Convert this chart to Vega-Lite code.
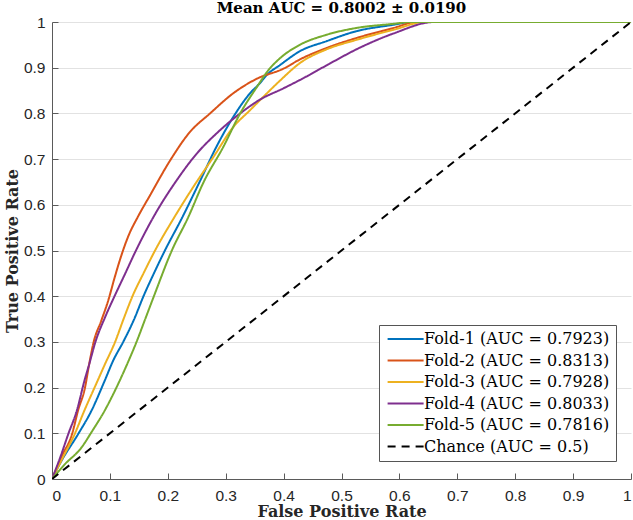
{
  "$schema": "https://vega.github.io/schema/vega-lite/v6.json",
  "width": 579,
  "height": 457,
  "autosize": {"type": "none"},
  "padding": {"left": 52, "top": 22, "right": 2, "bottom": 41},
  "background": "white",
  "title": {
    "text": "Mean AUC = 0.8002 ± 0.0190",
    "font": "DejaVu Serif",
    "fontSize": 15,
    "fontWeight": "bold",
    "color": "#000000",
    "anchor": "middle",
    "offset": -1
  },
  "config": {
    "view": {"stroke": null},
    "axis": {
      "domainColor": "#5a5a5a",
      "domainWidth": 1,
      "tickColor": "#5a5a5a",
      "tickSize": -6,
      "labelFont": "Liberation Sans",
      "labelFontSize": 15.5,
      "labelColor": "#262626",
      "titleFont": "DejaVu Serif",
      "titleFontSize": 16,
      "titleFontWeight": "bold",
      "titleColor": "#262626",
      "gridColor": "#e2e2e2",
      "gridWidth": 1
    }
  },
  "data": {
    "values": [
      {"c": "Fold-1 (AUC = 0.7923)", "x": 0, "y": 0},
      {"c": "Fold-1 (AUC = 0.7923)", "x": 0.016, "y": 0.039},
      {"c": "Fold-1 (AUC = 0.7923)", "x": 0.045, "y": 0.098},
      {"c": "Fold-1 (AUC = 0.7923)", "x": 0.068, "y": 0.149},
      {"c": "Fold-1 (AUC = 0.7923)", "x": 0.091, "y": 0.215},
      {"c": "Fold-1 (AUC = 0.7923)", "x": 0.106, "y": 0.26},
      {"c": "Fold-1 (AUC = 0.7923)", "x": 0.123, "y": 0.3},
      {"c": "Fold-1 (AUC = 0.7923)", "x": 0.142, "y": 0.35},
      {"c": "Fold-1 (AUC = 0.7923)", "x": 0.158, "y": 0.4},
      {"c": "Fold-1 (AUC = 0.7923)", "x": 0.176, "y": 0.45},
      {"c": "Fold-1 (AUC = 0.7923)", "x": 0.195, "y": 0.5},
      {"c": "Fold-1 (AUC = 0.7923)", "x": 0.224, "y": 0.57},
      {"c": "Fold-1 (AUC = 0.7923)", "x": 0.256, "y": 0.653},
      {"c": "Fold-1 (AUC = 0.7923)", "x": 0.284, "y": 0.727},
      {"c": "Fold-1 (AUC = 0.7923)", "x": 0.313, "y": 0.792},
      {"c": "Fold-1 (AUC = 0.7923)", "x": 0.342, "y": 0.844},
      {"c": "Fold-1 (AUC = 0.7923)", "x": 0.359, "y": 0.866},
      {"c": "Fold-1 (AUC = 0.7923)", "x": 0.371, "y": 0.884},
      {"c": "Fold-1 (AUC = 0.7923)", "x": 0.394, "y": 0.906},
      {"c": "Fold-1 (AUC = 0.7923)", "x": 0.428, "y": 0.936},
      {"c": "Fold-1 (AUC = 0.7923)", "x": 0.474, "y": 0.958},
      {"c": "Fold-1 (AUC = 0.7923)", "x": 0.526, "y": 0.98},
      {"c": "Fold-1 (AUC = 0.7923)", "x": 0.59, "y": 0.994},
      {"c": "Fold-1 (AUC = 0.7923)", "x": 0.62, "y": 1},
      {"c": "Fold-1 (AUC = 0.7923)", "x": 1, "y": 1},

      {"c": "Fold-2 (AUC = 0.8313)", "x": 0, "y": 0},
      {"c": "Fold-2 (AUC = 0.8313)", "x": 0.017, "y": 0.05},
      {"c": "Fold-2 (AUC = 0.8313)", "x": 0.035, "y": 0.1},
      {"c": "Fold-2 (AUC = 0.8313)", "x": 0.045, "y": 0.15},
      {"c": "Fold-2 (AUC = 0.8313)", "x": 0.057, "y": 0.2},
      {"c": "Fold-2 (AUC = 0.8313)", "x": 0.064, "y": 0.25},
      {"c": "Fold-2 (AUC = 0.8313)", "x": 0.072, "y": 0.3},
      {"c": "Fold-2 (AUC = 0.8313)", "x": 0.085, "y": 0.346},
      {"c": "Fold-2 (AUC = 0.8313)", "x": 0.097, "y": 0.39},
      {"c": "Fold-2 (AUC = 0.8313)", "x": 0.108, "y": 0.44},
      {"c": "Fold-2 (AUC = 0.8313)", "x": 0.12, "y": 0.49},
      {"c": "Fold-2 (AUC = 0.8313)", "x": 0.132, "y": 0.532},
      {"c": "Fold-2 (AUC = 0.8313)", "x": 0.148, "y": 0.573},
      {"c": "Fold-2 (AUC = 0.8313)", "x": 0.169, "y": 0.62},
      {"c": "Fold-2 (AUC = 0.8313)", "x": 0.204, "y": 0.697},
      {"c": "Fold-2 (AUC = 0.8313)", "x": 0.238, "y": 0.759},
      {"c": "Fold-2 (AUC = 0.8313)", "x": 0.273, "y": 0.8},
      {"c": "Fold-2 (AUC = 0.8313)", "x": 0.313, "y": 0.844},
      {"c": "Fold-2 (AUC = 0.8313)", "x": 0.354, "y": 0.876},
      {"c": "Fold-2 (AUC = 0.8313)", "x": 0.4, "y": 0.898},
      {"c": "Fold-2 (AUC = 0.8313)", "x": 0.428, "y": 0.918},
      {"c": "Fold-2 (AUC = 0.8313)", "x": 0.474, "y": 0.943},
      {"c": "Fold-2 (AUC = 0.8313)", "x": 0.526, "y": 0.965},
      {"c": "Fold-2 (AUC = 0.8313)", "x": 0.59, "y": 0.987},
      {"c": "Fold-2 (AUC = 0.8313)", "x": 0.63, "y": 1},
      {"c": "Fold-2 (AUC = 0.8313)", "x": 1, "y": 1},

      {"c": "Fold-3 (AUC = 0.7928)", "x": 0, "y": 0},
      {"c": "Fold-3 (AUC = 0.7928)", "x": 0.02, "y": 0.05},
      {"c": "Fold-3 (AUC = 0.7928)", "x": 0.039, "y": 0.098},
      {"c": "Fold-3 (AUC = 0.7928)", "x": 0.056, "y": 0.15},
      {"c": "Fold-3 (AUC = 0.7928)", "x": 0.077, "y": 0.21},
      {"c": "Fold-3 (AUC = 0.7928)", "x": 0.091, "y": 0.25},
      {"c": "Fold-3 (AUC = 0.7928)", "x": 0.109, "y": 0.3},
      {"c": "Fold-3 (AUC = 0.7928)", "x": 0.123, "y": 0.348},
      {"c": "Fold-3 (AUC = 0.7928)", "x": 0.139, "y": 0.4},
      {"c": "Fold-3 (AUC = 0.7928)", "x": 0.158, "y": 0.45},
      {"c": "Fold-3 (AUC = 0.7928)", "x": 0.178, "y": 0.5},
      {"c": "Fold-3 (AUC = 0.7928)", "x": 0.21, "y": 0.57},
      {"c": "Fold-3 (AUC = 0.7928)", "x": 0.244, "y": 0.639},
      {"c": "Fold-3 (AUC = 0.7928)", "x": 0.279, "y": 0.705},
      {"c": "Fold-3 (AUC = 0.7928)", "x": 0.313, "y": 0.77},
      {"c": "Fold-3 (AUC = 0.7928)", "x": 0.342, "y": 0.807},
      {"c": "Fold-3 (AUC = 0.7928)", "x": 0.368, "y": 0.84},
      {"c": "Fold-3 (AUC = 0.7928)", "x": 0.394, "y": 0.872},
      {"c": "Fold-3 (AUC = 0.7928)", "x": 0.428, "y": 0.91},
      {"c": "Fold-3 (AUC = 0.7928)", "x": 0.474, "y": 0.94},
      {"c": "Fold-3 (AUC = 0.7928)", "x": 0.526, "y": 0.961},
      {"c": "Fold-3 (AUC = 0.7928)", "x": 0.59, "y": 0.983},
      {"c": "Fold-3 (AUC = 0.7928)", "x": 0.645, "y": 1},
      {"c": "Fold-3 (AUC = 0.7928)", "x": 1, "y": 1},

      {"c": "Fold-4 (AUC = 0.8033)", "x": 0, "y": 0},
      {"c": "Fold-4 (AUC = 0.8033)", "x": 0.015, "y": 0.05},
      {"c": "Fold-4 (AUC = 0.8033)", "x": 0.028, "y": 0.098},
      {"c": "Fold-4 (AUC = 0.8033)", "x": 0.043, "y": 0.15},
      {"c": "Fold-4 (AUC = 0.8033)", "x": 0.056, "y": 0.215},
      {"c": "Fold-4 (AUC = 0.8033)", "x": 0.064, "y": 0.25},
      {"c": "Fold-4 (AUC = 0.8033)", "x": 0.075, "y": 0.3},
      {"c": "Fold-4 (AUC = 0.8033)", "x": 0.092, "y": 0.355},
      {"c": "Fold-4 (AUC = 0.8033)", "x": 0.108, "y": 0.4},
      {"c": "Fold-4 (AUC = 0.8033)", "x": 0.124, "y": 0.443},
      {"c": "Fold-4 (AUC = 0.8033)", "x": 0.145, "y": 0.5},
      {"c": "Fold-4 (AUC = 0.8033)", "x": 0.176, "y": 0.575},
      {"c": "Fold-4 (AUC = 0.8033)", "x": 0.215, "y": 0.653},
      {"c": "Fold-4 (AUC = 0.8033)", "x": 0.25, "y": 0.712},
      {"c": "Fold-4 (AUC = 0.8033)", "x": 0.284, "y": 0.756},
      {"c": "Fold-4 (AUC = 0.8033)", "x": 0.325, "y": 0.8},
      {"c": "Fold-4 (AUC = 0.8033)", "x": 0.359, "y": 0.83},
      {"c": "Fold-4 (AUC = 0.8033)", "x": 0.4, "y": 0.855},
      {"c": "Fold-4 (AUC = 0.8033)", "x": 0.434, "y": 0.877},
      {"c": "Fold-4 (AUC = 0.8033)", "x": 0.474, "y": 0.905},
      {"c": "Fold-4 (AUC = 0.8033)", "x": 0.532, "y": 0.944},
      {"c": "Fold-4 (AUC = 0.8033)", "x": 0.59, "y": 0.975},
      {"c": "Fold-4 (AUC = 0.8033)", "x": 0.66, "y": 1},
      {"c": "Fold-4 (AUC = 0.8033)", "x": 1, "y": 1},

      {"c": "Fold-5 (AUC = 0.7816)", "x": 0, "y": 0},
      {"c": "Fold-5 (AUC = 0.7816)", "x": 0.022, "y": 0.032},
      {"c": "Fold-5 (AUC = 0.7816)", "x": 0.051, "y": 0.069},
      {"c": "Fold-5 (AUC = 0.7816)", "x": 0.068, "y": 0.102},
      {"c": "Fold-5 (AUC = 0.7816)", "x": 0.092, "y": 0.152},
      {"c": "Fold-5 (AUC = 0.7816)", "x": 0.115, "y": 0.21},
      {"c": "Fold-5 (AUC = 0.7816)", "x": 0.13, "y": 0.252},
      {"c": "Fold-5 (AUC = 0.7816)", "x": 0.146, "y": 0.3},
      {"c": "Fold-5 (AUC = 0.7816)", "x": 0.161, "y": 0.35},
      {"c": "Fold-5 (AUC = 0.7816)", "x": 0.176, "y": 0.4},
      {"c": "Fold-5 (AUC = 0.7816)", "x": 0.207, "y": 0.5},
      {"c": "Fold-5 (AUC = 0.7816)", "x": 0.235, "y": 0.572},
      {"c": "Fold-5 (AUC = 0.7816)", "x": 0.262, "y": 0.65},
      {"c": "Fold-5 (AUC = 0.7816)", "x": 0.296, "y": 0.727},
      {"c": "Fold-5 (AUC = 0.7816)", "x": 0.325, "y": 0.8},
      {"c": "Fold-5 (AUC = 0.7816)", "x": 0.354, "y": 0.858},
      {"c": "Fold-5 (AUC = 0.7816)", "x": 0.374, "y": 0.895},
      {"c": "Fold-5 (AUC = 0.7816)", "x": 0.394, "y": 0.921},
      {"c": "Fold-5 (AUC = 0.7816)", "x": 0.428, "y": 0.95},
      {"c": "Fold-5 (AUC = 0.7816)", "x": 0.474, "y": 0.972},
      {"c": "Fold-5 (AUC = 0.7816)", "x": 0.526, "y": 0.987},
      {"c": "Fold-5 (AUC = 0.7816)", "x": 0.59, "y": 0.996},
      {"c": "Fold-5 (AUC = 0.7816)", "x": 0.62, "y": 1},
      {"c": "Fold-5 (AUC = 0.7816)", "x": 1, "y": 1},

      {"c": "Chance (AUC = 0.5)", "x": 0, "y": 0},
      {"c": "Chance (AUC = 0.5)", "x": 1, "y": 1}
    ]
  },
  "mark": {"type": "line", "strokeWidth": 2, "clip": true, "interpolate": "monotone"},
  "encoding": {
    "x": {
      "field": "x",
      "type": "quantitative",
      "scale": {"domain": [0, 1], "nice": false},
      "axis": {
        "title": "False Positive Rate",
        "values": [0, 0.1, 0.2, 0.3, 0.4, 0.5, 0.6, 0.7, 0.8, 0.9, 1],
        "format": "~g",
        "grid": false,
        "labelPadding": 15,
        "titlePadding": 0
      }
    },
    "y": {
      "field": "y",
      "type": "quantitative",
      "scale": {"domain": [0, 1], "nice": false},
      "axis": {
        "title": "True Positive Rate",
        "values": [0, 0.1, 0.2, 0.3, 0.4, 0.5, 0.6, 0.7, 0.8, 0.9, 1],
        "format": "~g",
        "grid": true,
        "labelPadding": 13,
        "titlePadding": 3
      }
    },
    "color": {
      "field": "c",
      "type": "nominal",
      "scale": {
        "domain": ["Fold-1 (AUC = 0.7923)", "Fold-2 (AUC = 0.8313)", "Fold-3 (AUC = 0.7928)", "Fold-4 (AUC = 0.8033)", "Fold-5 (AUC = 0.7816)", "Chance (AUC = 0.5)"],
        "range": ["#0072BD", "#D95319", "#EDB120", "#7E2F8E", "#77AC30", "#000000"]
      },
      "legend": {
        "title": null,
        "orient": "none",
        "legendX": 327,
        "legendY": 303,
        "direction": "vertical",
        "strokeColor": "#555555",
        "fillColor": "white",
        "padding": 6,
        "symbolType": "M-1.2,0H6.8",
        "symbolSize": 81,
        "symbolStrokeWidth": 2,
        "labelFont": "DejaVu Serif",
        "labelFontSize": 16,
        "labelColor": "#000000",
        "labelOffset": 23,
        "rowPadding": 5.5,
        "labelLimit": 400
      }
    },
    "strokeDash": {
      "field": "c",
      "type": "nominal",
      "scale": {
        "domain": ["Fold-1 (AUC = 0.7923)", "Fold-2 (AUC = 0.8313)", "Fold-3 (AUC = 0.7928)", "Fold-4 (AUC = 0.8033)", "Fold-5 (AUC = 0.7816)", "Chance (AUC = 0.5)"],
        "range": [[1, 0], [1, 0], [1, 0], [1, 0], [1, 0], [8, 6]]
      },
      "legend": {
        "title": null,
        "orient": "none",
        "legendX": 327,
        "legendY": 303,
        "direction": "vertical",
        "strokeColor": "#555555",
        "fillColor": "white",
        "padding": 6,
        "symbolType": "M-1.2,0H6.8",
        "symbolSize": 81,
        "symbolStrokeWidth": 2,
        "labelFont": "DejaVu Serif",
        "labelFontSize": 16,
        "labelColor": "#000000",
        "labelOffset": 23,
        "rowPadding": 5.5,
        "labelLimit": 400
      }
    }
  }
}
